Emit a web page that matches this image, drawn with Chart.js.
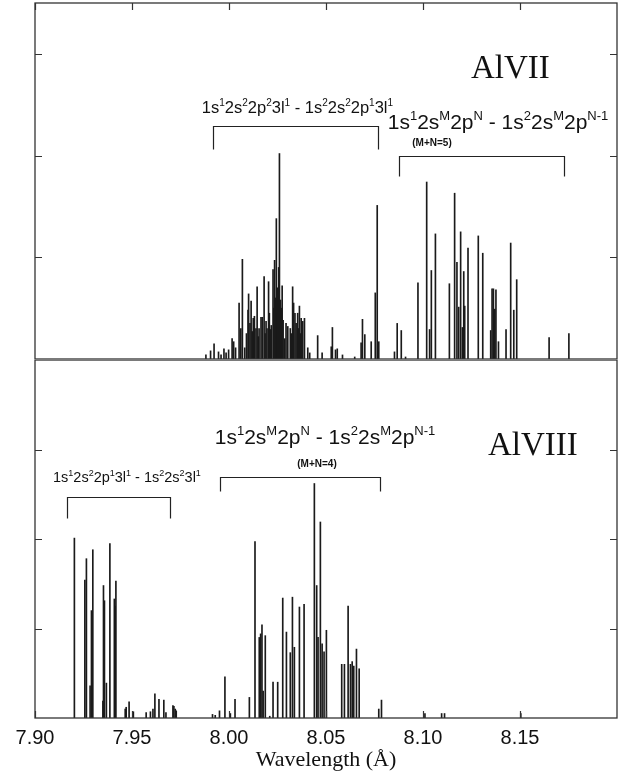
<!DOCTYPE html>
<html>
<head>
<meta charset="utf-8">
<script src="https://cdn.jsdelivr.net/npm/chart.js@4.4.0/dist/chart.umd.min.js"></script>
<style>
  html, body { margin: 0; padding: 0; background: #fff; }
  #wrap { position: relative; width: 618px; height: 773px; }
  #boxTop { position: absolute; left: 0; top: 0; width: 618px; height: 360px; }
  #boxBot { position: absolute; left: 0; top: 360px; width: 618px; height: 413px; }
</style>
</head>
<body>
<div id="wrap">
  <div id="boxTop"><canvas id="grafTop" width="618" height="360"></canvas></div>
  <div id="boxBot"><canvas id="grafBot" width="618" height="413"></canvas></div>
</div>
<script>
// Linhas do AlVII (comprimento de onda em Å, intensidade relativa)
var lambdaAl7 = [
  7.9881, 7.9905, 7.9923, 7.9946, 7.9959, 7.9974, 7.9985, 7.9998, 8.0016, 8.0024,
  8.0034, 8.0052, 8.0061, 8.0069, 8.0081, 8.0090, 8.0098, 8.0101, 8.0108, 8.0114,
  8.0120, 8.0125, 8.0131, 8.0139, 8.0145, 8.0151, 8.0155, 8.0165, 8.0172, 8.0181,
  8.0186, 8.0191, 8.0196, 8.0204, 8.0208, 8.0213, 8.0218, 8.0227, 8.0231, 8.0235,
  8.0240, 8.0244, 8.0248, 8.0251, 8.0256, 8.0260, 8.0265, 8.0270, 8.0274, 8.0279,
  8.0287, 8.0294, 8.0303, 8.0316, 8.0322, 8.0328, 8.0333, 8.0340, 8.0346, 8.0354,
  8.0358, 8.0363, 8.0367, 8.0372, 8.0380, 8.0389, 8.0406, 8.0416, 8.0457, 8.0480,
  8.0527, 8.0533, 8.0549, 8.0558, 8.0585, 8.0648, 8.0681, 8.0688, 8.0700, 8.0733,
  8.0754, 8.0764, 8.0772, 8.0853, 8.0867, 8.0888, 8.0910, 8.0974, 8.1019, 8.1034,
  8.1043, 8.1064, 8.1136, 8.1163, 8.1175, 8.1184, 8.1194, 8.1203, 8.1210, 8.1215,
  8.1232, 8.1285, 8.1308, 8.1349, 8.1356, 8.1363, 8.1370, 8.1376, 8.1389, 8.1428,
  8.1452, 8.1468, 8.1483, 8.1650, 8.1752
];
var intensAl7 = [
  0.04, 0.08, 0.15, 0.07, 0.04, 0.10, 0.06, 0.09, 0.20, 0.17,
  0.11, 0.55, 0.30, 0.98, 0.11, 0.25, 0.48, 0.64, 0.35, 0.57,
  0.27, 0.40, 0.42, 0.30, 0.71, 0.22, 0.30, 0.41, 0.41, 0.81,
  0.25, 0.37, 0.30, 0.76, 0.45, 0.29, 0.33, 0.88, 0.50, 0.97,
  0.60, 1.38, 0.45, 0.70, 0.90, 2.02, 0.58, 0.50, 0.72, 0.38,
  0.20, 0.35, 0.32, 0.30, 0.25, 0.71, 0.55, 0.45, 0.35, 0.45,
  0.30, 0.52, 0.25, 0.40, 0.37, 0.40, 0.11, 0.06, 0.23, 0.06,
  0.12, 0.31, 0.09, 0.10, 0.04, 0.02, 0.16, 0.39, 0.24, 0.17,
  0.65, 1.51, 0.17, 0.07, 0.35, 0.28, 0.02, 0.75, 1.74, 0.29,
  0.87, 1.23, 0.74, 1.63, 0.95, 0.51, 1.25, 0.31, 0.86, 0.52,
  1.09, 1.21, 1.04, 0.28, 0.69, 0.69, 0.49, 0.68, 0.17, 0.29,
  1.14, 0.48, 0.78, 0.21, 0.25
];

// Linhas do AlVIII
var lambdaAl8 = [
  7.9203, 7.9257, 7.9265, 7.9284, 7.9291, 7.9298, 7.9350, 7.9353, 7.9358, 7.9368,
  7.9386, 7.9409, 7.9413, 7.9417, 7.9465, 7.9470, 7.9485, 7.9507, 7.9573, 7.9595,
  7.9608, 7.9618, 7.9639, 7.9664, 7.9675, 7.9711, 7.9716, 7.9723, 7.9728, 7.9915,
  7.9929, 7.9951, 7.9979, 8.0007, 8.0031, 8.0105, 8.0134, 8.0156, 8.0163, 8.0170,
  8.0176, 8.0187, 8.0210, 8.0227, 8.0251, 8.0277, 8.0296, 8.0316, 8.0327, 8.0337,
  8.0363, 8.0387, 8.0440, 8.0452, 8.0459, 8.0471, 8.0480, 8.0490, 8.0502, 8.0581,
  8.0595, 8.0614, 8.0626, 8.0635, 8.0643, 8.0657, 8.0671, 8.0772, 8.0786, 8.1010,
  8.1096, 8.1111, 8.1504
];
var intensAl8 = [
  2.01, 1.54, 1.78, 0.36, 1.20, 1.88, 0.19, 1.48, 1.31, 0.39,
  1.95, 1.33, 1.25, 1.53, 0.10, 0.12, 0.18, 0.07, 0.06, 0.07,
  0.10, 0.27, 0.21, 0.20, 0.06, 0.14, 0.13, 0.10, 0.08, 0.04,
  0.03, 0.08, 0.46, 0.05, 0.21, 0.23, 1.97, 0.90, 0.94, 1.04,
  0.30, 0.92, 0.02, 0.40, 0.40, 1.34, 0.96, 0.73, 1.35, 0.79,
  1.24, 1.27, 2.62, 1.48, 0.90, 2.19, 0.83, 0.74, 0.98, 0.60,
  0.60, 1.25, 0.60, 0.63, 0.58, 0.77, 0.55, 0.10, 0.20, 0.05,
  0.05, 0.05, 0.05
];

// Eixos
var xTickValues = [7.90, 7.95, 8.00, 8.05, 8.10, 8.15];
var xTickLabels = ['7.90', '7.95', '8.00', '8.05', '8.10', '8.15'];
var yTickValues = [1, 2, 3];

// Colchetes (intervalos em Å) e textos
var bracketsAl7 = [[7.9919, 8.0766], [8.0874, 8.1726]];
var bracketsAl8 = [[7.9955, 8.0776], [7.9165, 7.9697]];
var textosAl7 = ['AlVII', '1s^{1}2s^{2}2p^{2}3l^{1} - 1s^{2}2s^{2}2p^{1}3l^{1}', '1s^{1}2s^{M}2p^{N} - 1s^{2}2s^{M}2p^{N-1}', '(M+N=5)'];
var textosAl8 = ['AlVIII', '1s^{1}2s^{M}2p^{N} - 1s^{2}2s^{M}2p^{N-1}', '(M+N=4)', '1s^{1}2s^{2}2p^{1}3l^{1} - 1s^{2}2s^{2}3l^{1}'];

var SANS = '"Liberation Sans", Arial, Helvetica, sans-serif';
var SERIF = '"Liberation Serif", "Times New Roman", serif';

// Texto com expoentes: ^{...}
function textoRico(ctx, texto, x, y, tam, alinhar) {
  var partes = [], re = /\^\{([^}]*)\}/g, ult = 0, m;
  while ((m = re.exec(texto))) {
    if (m.index > ult) partes.push({ t: texto.slice(ult, m.index), sup: false });
    partes.push({ t: m[1], sup: true });
    ult = re.lastIndex;
  }
  if (ult < texto.length) partes.push({ t: texto.slice(ult), sup: false });
  var fBig = tam + 'px ' + SANS, fSup = Math.round(tam * 0.6) + 'px ' + SANS;
  var larg = 0;
  partes.forEach(function (p) {
    ctx.font = p.sup ? fSup : fBig;
    p.w = ctx.measureText(p.t).width;
    larg += p.w;
  });
  var cx = alinhar === 'center' ? x - larg / 2 : x;
  ctx.textAlign = 'left';
  ctx.textBaseline = 'alphabetic';
  partes.forEach(function (p) {
    ctx.font = p.sup ? fSup : fBig;
    ctx.fillText(p.t, cx, p.sup ? y - tam * 0.42 : y);
    cx += p.w;
  });
}

function colchete(ctx, sx, l0, l1, y, h) {
  var a = Math.round(sx.getPixelForValue(l0)) + 0.5;
  var b = Math.round(sx.getPixelForValue(l1)) + 0.5;
  ctx.beginPath();
  ctx.moveTo(a, y + h);
  ctx.lineTo(a, y);
  ctx.lineTo(b, y);
  ctx.lineTo(b, y + h);
  ctx.stroke();
}

// Moldura com ticks para dentro
function molduraPlugin(ticksEmCima) {
  return {
    id: 'moldura',
    afterDatasetsDraw: function (chart) {
      var ctx = chart.ctx, a = chart.chartArea;
      var sx = chart.scales.x, sy = chart.scales.y;
      ctx.save();
      ctx.strokeStyle = '#333';
      ctx.lineWidth = 1.3;
      ctx.strokeRect(a.left, a.top, a.right - a.left, a.bottom - a.top);
      ctx.lineWidth = 1.2;
      ctx.beginPath();
      yTickValues.forEach(function (v) {
        var py = Math.round(sy.getPixelForValue(v)) + 0.5;
        ctx.moveTo(a.left, py); ctx.lineTo(a.left + 7, py);
        ctx.moveTo(a.right, py); ctx.lineTo(a.right - 7, py);
      });
      xTickValues.forEach(function (v) {
        var px = Math.round(sx.getPixelForValue(v)) + 0.5;
        if (ticksEmCima) { ctx.moveTo(px, a.top); ctx.lineTo(px, a.top + 7); }
        else { ctx.moveTo(px, a.bottom); ctx.lineTo(px, a.bottom - 7); }
      });
      ctx.stroke();
      ctx.restore();
    }
  };
}

var anotTop = {
  id: 'anotTop',
  afterDraw: function (chart) {
    var ctx = chart.ctx, sx = chart.scales.x;
    ctx.save();
    ctx.fillStyle = '#111';
    ctx.strokeStyle = '#222';
    ctx.lineWidth = 1.2;
    ctx.font = '33px ' + SERIF;
    ctx.textAlign = 'left';
    ctx.textBaseline = 'alphabetic';
    ctx.fillText(textosAl7[0], 471, 78);
    var c1 = (sx.getPixelForValue(bracketsAl7[0][0]) + sx.getPixelForValue(bracketsAl7[0][1])) / 2;
    textoRico(ctx, textosAl7[1], c1 + 2, 113, 16.5, 'center');
    colchete(ctx, sx, bracketsAl7[0][0], bracketsAl7[0][1], 126.5, 23);
    textoRico(ctx, textosAl7[2], 498, 129, 21, 'center');
    ctx.font = 'bold 10px ' + SANS;
    ctx.textAlign = 'center';
    ctx.fillText(textosAl7[3], 432, 146);
    colchete(ctx, sx, bracketsAl7[1][0], bracketsAl7[1][1], 156.5, 20);
    ctx.restore();
  }
};

var anotBot = {
  id: 'anotBot',
  afterDraw: function (chart) {
    var ctx = chart.ctx, sx = chart.scales.x, dy = -360;
    ctx.save();
    ctx.fillStyle = '#111';
    ctx.strokeStyle = '#222';
    ctx.lineWidth = 1.2;
    ctx.font = '33px ' + SERIF;
    ctx.textAlign = 'left';
    ctx.textBaseline = 'alphabetic';
    ctx.fillText(textosAl8[0], 488, 455 + dy);
    textoRico(ctx, textosAl8[1], 325, 444 + dy, 21, 'center');
    ctx.font = 'bold 10px ' + SANS;
    ctx.textAlign = 'center';
    ctx.fillText(textosAl8[2], 317, 467 + dy);
    colchete(ctx, sx, bracketsAl8[0][0], bracketsAl8[0][1], 477.5 + dy, 14);
    textoRico(ctx, textosAl8[3], 53, 482 + dy, 14.5, 'left');
    colchete(ctx, sx, bracketsAl8[1][0], bracketsAl8[1][1], 497.5 + dy, 21);
    ctx.restore();
  }
};

function pontos(ls, vs) {
  return ls.map(function (l, i) { return { x: l, y: vs[i] }; });
}

function opcoes(yMax, mostrarX) {
  return {
    responsive: false,
    animation: false,
    layout: { padding: { left: 35, right: 1, top: mostrarX ? 0 : 3, bottom: mostrarX ? 0 : 1 } },
    plugins: { legend: { display: false }, tooltip: { enabled: false } },
    scales: {
      x: {
        type: 'linear',
        min: 7.90,
        max: 8.20,
        offset: false,
        display: mostrarX,
        grid: { display: false, drawTicks: false },
        border: { display: false },
        afterBuildTicks: function (s) {
          s.ticks = xTickValues.map(function (v) { return { value: v }; });
        },
        afterFit: function (s) { if (mostrarX) s.height = 55; },
        ticks: {
          autoSkip: false,
          maxRotation: 0,
          padding: 8,
          color: '#111',
          font: { family: SANS, size: 20 },
          callback: function (v, i) { return xTickLabels[i]; }
        },
        title: {
          display: true,
          text: 'Wavelength (Å)',
          color: '#111',
          font: { family: SERIF, size: 22 },
          padding: { top: 0, bottom: 0 }
        }
      },
      y: { min: 0, max: yMax, display: false }
    }
  };
}

new Chart(document.getElementById('grafTop').getContext('2d'), {
  type: 'bar',
  data: {
    datasets: [{
      label: 'AlVII',
      data: pontos(lambdaAl7, intensAl7),
      backgroundColor: '#1a1a1a',
      barThickness: 1
    }]
  },
  options: opcoes(3.5, false),
  plugins: [molduraPlugin(true), anotTop]
});

new Chart(document.getElementById('grafBot').getContext('2d'), {
  type: 'bar',
  data: {
    datasets: [{
      label: 'AlVIII',
      data: pontos(lambdaAl8, intensAl8),
      backgroundColor: '#1a1a1a',
      barThickness: 1
    }]
  },
  options: opcoes(4, true),
  plugins: [molduraPlugin(false), anotBot]
});
</script>
</body>
</html>
